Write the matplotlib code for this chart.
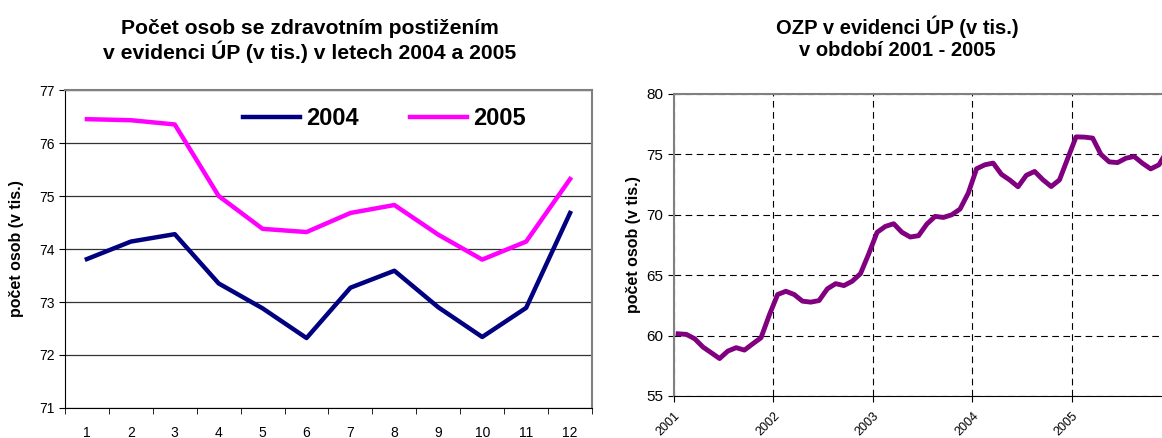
import matplotlib.pyplot as plt
import numpy as np

plt.rcParams['font.family'] = ['Liberation Sans', 'DejaVu Sans']

# --- data ---
months = [1, 2, 3, 4, 5, 6, 7, 8, 9, 10, 11, 12]
y2004 = [73.81, 74.14, 74.28, 73.35, 72.88, 72.32, 73.27, 73.59, 72.90, 72.34, 72.89, 74.68]
y2005 = [76.45, 76.43, 76.35, 75.00, 74.38, 74.32, 74.68, 74.83, 74.27, 73.80, 74.14, 75.32]

y2001 = [60.15, 60.10, 59.74, 59.05, 58.58, 58.10, 58.72, 59.00, 58.80, 59.32, 59.82, 61.70]
y2002 = [63.40, 63.67, 63.40, 62.85, 62.77, 62.90, 63.87, 64.30, 64.14, 64.50, 65.13, 66.78]
y2003 = [68.55, 69.04, 69.26, 68.55, 68.16, 68.27, 69.23, 69.87, 69.78, 70.00, 70.47, 71.80]
years = [2001, 2002, 2003, 2004, 2005]

ylab = 'počet osob (v tis.)'

fig = plt.figure(figsize=(11.62, 4.38), dpi=100)

# ---------------- left chart ----------------
ax1 = fig.add_axes([0.0559, 0.0685, 0.4536, 0.726])
ax1.plot(months, y2004, color='#000080', lw=3.2, label='2004')
ax1.plot(months, y2005, color='#FF00FF', lw=3.2, label='2005')
ax1.set_xlim(0.5, 12.5)
ax1.set_ylim(71, 77)
ax1.set_yticks(range(71, 78))
ax1.set_xticks(months)
ax1.set_xticks(np.arange(0.5, 13, 1), minor=True)
ax1.tick_params(axis='x', which='major', length=0, labelsize=10, pad=13)
ax1.tick_params(axis='x', which='minor', length=4, direction='out')
ax1.tick_params(axis='y', length=4, direction='out', labelsize=10)
ax1.grid(axis='y', color='#333333', lw=0.9)
ax1.set_axisbelow(True)
for s in ['top', 'right']:
    ax1.spines[s].set_color('#808080')
    ax1.spines[s].set_linewidth(1.5)
ax1.set_ylabel(ylab, fontsize=11.5, fontweight='bold', labelpad=11)
leg = ax1.legend(loc='center left', bbox_to_anchor=(0.338, 0.91), ncol=2, frameon=False,
                 prop={'size': 17, 'weight': 'bold'}, handlelength=2.4, columnspacing=2.2,
                 handletextpad=0.25, borderpad=0, borderaxespad=0)
fig.text(0.2668, 0.957, 'Počet osob se zdravotním postižením\nv evidenci ÚP (v tis.) v letech 2004 a 2005',
         ha='center', va='top', fontsize=15.2, fontweight='bold', linespacing=1.12)

# ---------------- right chart ----------------
ax2 = fig.add_axes([0.580, 0.0959, 0.4281, 0.6895])
vals = y2001 + y2002 + y2003 + y2004 + y2005
t = [yr + (m - 1) / 12 + 1 / 24 for yr in years for m in months]
ax2.plot(t, vals, color='#800080', lw=3.5, solid_joinstyle='round')
ax2.set_xlim(2001, 2006)
ax2.set_ylim(55, 80)
ax2.set_yticks(range(55, 81, 5))
ax2.set_xticks(years)
ax2.set_xticklabels([str(y) for y in years], rotation=45, ha='right', rotation_mode='anchor', fontsize=9)
ax2.tick_params(axis='x', length=4, direction='out', pad=6)
ax2.tick_params(axis='y', length=4, direction='out', labelsize=11)
ax2.grid(True, color='black', lw=0.8, linestyle=(0, (6, 4)))
ax2.set_axisbelow(True)
for s in ['top', 'left']:
    ax2.spines[s].set_color('#808080')
    ax2.spines[s].set_linewidth(1.5)
ax2.set_ylabel(ylab, fontsize=11.5, fontweight='bold', labelpad=4)
fig.text(0.7724, 0.965, 'OZP v evidenci ÚP (v tis.)\nv období 2001 - 2005',
         ha='center', va='top', fontsize=14.5, fontweight='bold', linespacing=1.2)

fig.savefig('out.png', dpi=100)
